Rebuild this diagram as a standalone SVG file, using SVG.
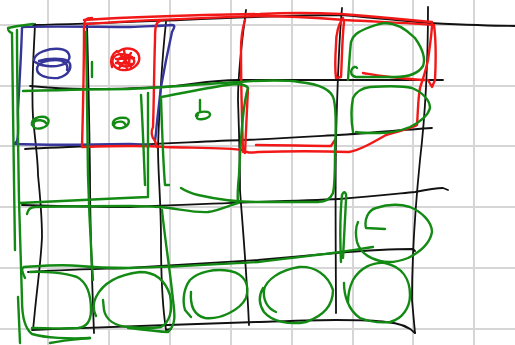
<svg xmlns="http://www.w3.org/2000/svg" width="515" height="345" viewBox="0 0 515 345">
<style>
.grid line{stroke:#d6d6d6;stroke-width:2}
path{fill:none;stroke-linecap:round;stroke-linejoin:round}
.k{stroke:#111;stroke-width:1.8}
.r{stroke:#f21818;stroke-width:2.4}
.b{stroke:#35359a;stroke-width:2.4}
.g{stroke:#138a13;stroke-width:2.4}
</style>
<rect width="515" height="345" fill="#fff"/>
<g class="grid">
<line x1="48" y1="0" x2="48" y2="345"/><line x1="109" y1="0" x2="109" y2="345"/><line x1="170" y1="0" x2="170" y2="345"/><line x1="231" y1="0" x2="231" y2="345"/><line x1="292" y1="0" x2="292" y2="345"/><line x1="353" y1="0" x2="353" y2="345"/><line x1="413" y1="0" x2="413" y2="345"/><line x1="474" y1="0" x2="474" y2="345"/>
<line x1="0" y1="25" x2="515" y2="25"/><line x1="0" y1="86" x2="515" y2="86"/><line x1="0" y1="146" x2="515" y2="146"/><line x1="0" y1="207" x2="515" y2="207"/><line x1="0" y1="268" x2="515" y2="268"/><line x1="0" y1="329" x2="515" y2="329"/>
</g>
<g id="black-grid">
<path class="k" d="M35,24 C34,50 31,85 33,117 C35,140 38,160 38,175 C40,195 42,215 42,237 C41,260 38,280 35,310 L33,330"/>
<path class="k" d="M87,25 C88,60 89,100 90,175 C90,230 92,280 94,333"/>
<path class="k" d="M166,22 C163,50 160,90 158,147 C158,175 161,200 161,240 C161,280 163,310 166,330 L171,329"/>
<path class="k" d="M246,10 C242,40 238,70 238,100 C239,130 240,160 240,190 C242,220 246,260 249,325"/>
<path class="k" d="M342,8 C339,40 337,100 336,140 C335,200 336,270 336,313"/>
<path class="k" d="M428,7 C428,40 427,100 420,160 C416,200 412,250 412,300 L415,333"/>
<path class="k" d="M33,25 C80,24 128,22 180,20 C250,17 300,15 341,15 C380,18 410,22 430,23 C470,25 500,26 515,26"/>
<path class="k" d="M30,86 C50,88 70,89 87,89 C120,89 140,88 161,87 C190,85 210,80 238,80 C280,80 320,80 338,80 C380,80 420,80 443,80"/>
<path class="k" d="M25,149 C60,147 100,146 128,145 C180,143 210,141 245,140 C290,138 320,136 338,135 C370,133 400,130 432,128"/>
<path class="k" d="M22,205 C60,206 100,207 130,207 C180,205 220,203 258,202 C290,201 320,200 339,199 C370,197 395,194 415,192 C425,190 435,188 443,188 L448,190"/>
<path class="k" d="M28,272 C60,270 100,269 128,268 C180,265 220,262 258,260 C290,257 315,255 336,253 C360,251 390,249 413,249 L415,251"/>
<path class="k" d="M32,330 C80,328 130,326 168,325 C200,324 230,323 256,322 C290,321 320,320 336,320 C360,320 380,321 386,322 C400,323 408,326 415,333"/>
</g>
<g id="blue-area">
<path class="b" d="M22,27 C50,26 100,27 130,27 C150,26 165,26 172,25 C176,25 174,28 172,32 C168,50 164,70 161,87 C159,105 157,120 156,133 L155,141"/>
<path class="b" d="M22,28 C21,60 19,90 18,110 C18,125 19,135 17,141 L14,144 C40,145 80,145 130,144 L150,145"/>
<path class="b" d="M34,60 C35,52 50,48 60,49 C70,50 72,58 66,63 C58,68 42,67 35,62 M39,61 C48,58 62,58 68,61 C73,66 70,75 58,78 C46,79 37,75 37,69 C37,63 46,60 56,60 C63,60 69,64 67,70"/>
</g>
<g id="red-area">
<path class="r" d="M92,18 C86,18 84,20 84,28 C84,60 83,110 82,147 C110,146 140,145 165,147 C200,148 230,148 243,150 C246,153 250,153 258,152 C290,151 320,151 349,152 C360,150 372,143 386,135 C400,131 412,128 417,125 C418,112 418,98 420,88 C422,82 426,70 428,60 C430,45 432,32 432,24"/>
<path class="r" d="M84,20 C130,17 200,15 260,14 C300,12 320,13 341,14 C380,17 410,20 432,22"/>
<path class="r" d="M86,24 C140,20 200,18 256,16 C290,16 320,18 345,20 C380,22 410,23 434,25 C436,40 436,60 435,80 L432,87 L428,80"/>
<path class="r" d="M160,21 C156,22 155,26 155,40 C154,70 154,100 153,127 C151,131 151,137 155,141 L157,147"/>
<path class="r" d="M245,20 C242,30 241,38 241,50 C241,80 242,120 243,152 M248,88 C247,110 246,130 245,153"/>
<path class="r" d="M343,18 C338,25 336,32 336,45 C335,60 335,70 336,78 L341,77 C342,60 342,40 344,22"/>
<path class="r" d="M363,73 C375,75 385,77 400,78 C410,79 420,80 425,80"/>
<path class="r" d="M256,145 C280,145 310,146 331,146 L335,140"/>
<path class="r" stroke-width="3.2" d="M118,52 C125,46 137,48 139,56 C141,64 132,71 123,70 C114,69 110,62 114,57 C118,52 132,54 134,60 C136,66 126,68 120,65 C116,62 118,57 124,57 C130,57 131,62 127,64 M112,67 C110,60 112,54 117,51 M116,59 L134,58 M116,63 L133,64 M124,50 L127,70 M120,54 L131,67 M131,53 L119,68"/>
</g>
<g id="green-area">
<path class="g" d="M33,24 C25,25 15,26 8,28 C8,30 9,32 12,33 C13,100 14,200 15,250"/>
<path class="g" d="M17,30 C17,80 18,140 19,200 C20,240 21,270 22,300 C22,315 24,328 32,334 C45,338 70,339 90,338"/>
<path class="g" d="M18,297 L20,343"/>
<path class="g" d="M50,343 C65,340 80,339 90,338"/>
<path class="g" d="M23,91 C60,90 100,89 128,89 C160,88 200,84 240,82 C260,80 290,80 299,82 C320,84 332,90 334,100 C336,110 336,130 335,150 C335,170 335,185 333,193 C330,200 325,202 318,202 C290,202 270,202 256,202 C240,202 220,200 198,195 C190,193 184,190 181,188"/>
<path class="g" d="M27,214 C28,209 31,207 35,207 C70,206 100,206 130,206 C145,206 155,207 161,207 C180,209 195,213 208,212 C220,210 230,205 238,203"/>
<path class="g" d="M20,203 C40,202 60,201 83,200 C100,199 120,198 148,197 L148,93 M141,95 C143,130 144,160 145,185"/>
<path class="g" d="M86,32 C87,80 87,130 88,175 C89,210 91,250 93,280"/>
<path class="g" d="M92,62 L92,77"/>
<path class="g" d="M169,185 L165,185 C163,160 162,130 161,97 C190,92 215,86 235,84 C242,84 247,86 248,88 C244,100 241,130 239,175 C238,185 237,195 238,202"/>
<path class="g" d="M162,210 C165,240 170,270 173,300 C175,315 176,325 168,332 C150,331 140,329 128,328"/>
<path class="g" d="M25,278 C22,272 21,268 24,267 C40,266 60,264 80,266 C100,268 115,268 130,268 C180,267 220,264 258,262 C290,258 320,255 340,252 C355,250 365,248 373,247"/>
<path class="g" d="M341,262 C340,240 340,215 342,195 C344,190 347,192 346,200 C345,220 344,240 343,258"/>
<path class="g" d="M30,272 C45,271 65,273 77,277 C88,283 91,295 91,310 C91,320 87,327 78,328 C60,329 45,328 32,328"/>
<path class="g" d="M96,316 C93,310 93,303 96,297 C102,285 115,275 140,272 C155,272 165,280 170,295 C173,310 170,322 161,327 C150,329 138,328 128,327 C115,326 106,320 104,310 L103,300"/>
<path class="g" d="M191,292 C190,305 193,315 205,318 C220,320 240,310 246,298 C250,285 245,274 230,271 C215,268 198,272 190,280 C184,288 182,300 185,310 L191,317"/>
<path class="g" d="M276,312 C266,308 263,298 264,290 C266,280 280,270 299,267 C315,266 328,275 333,290 C333,303 326,315 306,322 C290,325 272,322 264,312 C258,303 259,295 263,288"/>
<path class="g" d="M344,283 C344,295 348,310 360,318 C370,322 380,323 390,322 C402,319 410,308 410,295 C410,280 403,267 385,263 C372,262 360,268 353,280 C349,288 348,296 348,303"/>
<path class="g" d="M385,229 L366,228 C364,220 368,210 376,208 C388,204 400,204 410,207 C422,212 432,222 432,232 C430,243 420,252 408,258 C398,262 388,263 380,261 C368,258 360,252 357,242 C355,232 356,226 358,222"/>
<path class="g" d="M348,80 C349,65 350,50 351,42 C353,35 358,32 365,29 C372,26 378,24 385,23 C395,23 405,28 415,38 C422,48 426,58 423,66 C418,74 408,77 395,77 L356,77 C351,76 350,72 352,69 C353,67 356,66 357,68"/>
<path class="g" d="M353,132 C351,120 351,108 353,98 C356,92 362,88 370,87 C385,86 400,85 412,88 C422,92 430,100 430,108 C428,116 420,122 410,127 C400,131 390,133 380,133 C370,133 360,133 356,132"/>
<path class="g" d="M32,125 C31,119 38,116 45,117 C51,119 49,126 42,128 C35,130 31,127 34,122 C37,119 44,120 46,123"/>
<path class="g" d="M113,125 C112,119 119,117 126,118 C131,120 129,126 122,128 C116,129 112,127 115,123 C118,121 124,121 125,124"/>
<path class="g" d="M200,100 L200,112 M196,116 C196,112 203,111 208,112 C212,114 210,118 203,119 C198,120 195,118 198,115"/>
</g>
</svg>
